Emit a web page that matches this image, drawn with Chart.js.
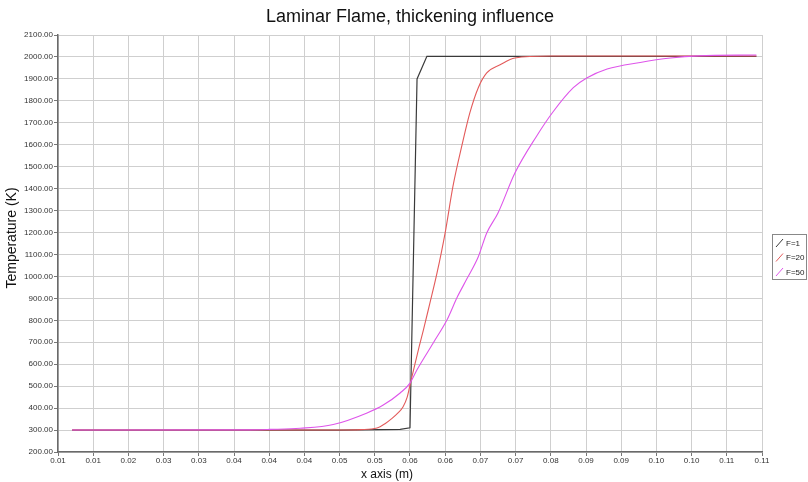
<!DOCTYPE html>
<html>
<head>
<meta charset="utf-8">
<script src="https://cdn.jsdelivr.net/npm/chart.js@4/dist/chart.umd.min.js"></script>
<style>
html,body{margin:0;padding:0;background:#fff;}
#wrap{width:808px;height:482px;}
</style>
</head>
<body>
<div id="wrap"><canvas id="c" width="808" height="482"></canvas></div>
<script>
// ---- data ----
const chartTitle = 'Laminar Flame, thickening influence';
const xAxisTitle = 'x axis (m)';
const yAxisTitle = 'Temperature (K)';
const seriesNames = ['F=1', 'F=20', 'F=50'];

const xTickLabels = ['0.01','0.01','0.02','0.03','0.03','0.04','0.04','0.04','0.05','0.05','0.06',
                     '0.06','0.07','0.07','0.08','0.09','0.09','0.10','0.10','0.11','0.11'];

const f1X = [0.0120, 0.0500, 0.0586, 0.0600, 0.0610, 0.0624, 0.0800, 0.1092];
const f1T = [300,    300,    303,    310,    1900,   2003,   2003,   2003];

const f20X = [0.0120, 0.0500, 0.0530, 0.0553, 0.0565, 0.0574, 0.0583, 0.0590, 0.0596, 0.0601, 0.0607,
              0.0613, 0.0619, 0.0628, 0.0638, 0.0650, 0.0661, 0.0674, 0.0685, 0.0697, 0.0709, 0.0728,
              0.0749, 0.0799, 0.1092];
const f20T = [300,    300,    302,    309,    330,    352,    378,    405,    450,    520,    600,
              680,    755,    875,    1010,   1200,   1410,   1600,   1745,   1860,   1927,   1964,
              1995,   2004,   2004];

const f50X = [0.0120, 0.0373, 0.0401, 0.0444, 0.0491, 0.0539, 0.0562, 0.0586, 0.0600, 0.0610, 0.0633,
              0.0653, 0.0667, 0.0681, 0.0697, 0.0709, 0.0725, 0.0749, 0.0780, 0.0803, 0.0832, 0.0851,
              0.0880, 0.0927, 0.0970, 0.1010, 0.1092];
const f50T = [300,    301,    303,    308,    325,    378,    414,    469,    514,    575,    697,
              805,    905,    990,    1090,   1198,   1289,   1471,   1640,   1749,   1860,   1904,
              1945,   1975,   1995,   2005,   2009];

const seriesColors = ['#3a3a3a', '#e35a5a', '#de55ea'];

function toPoints(xs, ys) { return xs.map((x, i) => ({x: x, y: ys[i]})); }

const fontFam = '"Liberation Sans", Arial, sans-serif';

// ---- plugins ----
const textPlugin = {
  id: 'titles',
  afterDraw(chart) {
    const ctx = chart.ctx, a = chart.chartArea;
    ctx.save();
    ctx.fillStyle = '#111';
    ctx.textAlign = 'center';
    ctx.textBaseline = 'middle';
    ctx.font = '18px ' + fontFam;
    ctx.fillText(chartTitle, (a.left + a.right) / 2, 17);
    ctx.font = '12px ' + fontFam;
    ctx.fillText(xAxisTitle, 387, 475);
    ctx.translate(12, 238);
    ctx.rotate(-Math.PI / 2);
    ctx.font = '14px ' + fontFam;
    ctx.fillText(yAxisTitle, 0, 0);
    ctx.restore();
  }
};

const legendPlugin = {
  id: 'boxLegend',
  afterDraw(chart) {
    const ctx = chart.ctx;
    const bx = 772.5, by = 234.5, bw = 34, bh = 45;
    ctx.save();
    ctx.strokeStyle = '#888';
    ctx.lineWidth = 1;
    ctx.strokeRect(bx, by, bw, bh);
    ctx.font = '8px ' + fontFam;
    ctx.textBaseline = 'middle';
    ctx.textAlign = 'left';
    chart.data.datasets.forEach((ds, i) => {
      const y = 243 + i * 14.5;
      ctx.strokeStyle = ds.borderColor;
      ctx.lineWidth = 1;
      ctx.beginPath();
      ctx.moveTo(776, y + 4);
      ctx.lineTo(783, y - 4);
      ctx.stroke();
      ctx.fillStyle = '#222';
      ctx.fillText(ds.label, 786, y + 0.5);
    });
    ctx.restore();
  }
};

new Chart(document.getElementById('c'), {
  type: 'line',
  data: {
    datasets: [
      {label: seriesNames[0], data: toPoints(f1X, f1T), borderColor: seriesColors[0], borderWidth: 1.2, order: 3},
      {label: seriesNames[1], data: toPoints(f20X, f20T), borderColor: seriesColors[1], borderWidth: 1.1, order: 2, cubicInterpolationMode: 'monotone'},
      {label: seriesNames[2], data: toPoints(f50X, f50T), borderColor: seriesColors[2], borderWidth: 1.1, order: 1, cubicInterpolationMode: 'monotone'}
    ]
  },
  options: {
    responsive: false,
    animation: false,
    devicePixelRatio: 1,
    elements: { point: { radius: 0 }, line: { tension: 0, fill: false } },
    layout: { padding: { top: 35, right: 46, left: 0, bottom: 0 } },
    plugins: {
      legend: { display: false },
      title: { display: false },
      tooltip: { enabled: false }
    },
    scales: {
      x: {
        type: 'linear',
        min: 0.01,
        max: 0.11,
        afterFit(s) { s.height = 30; },
        ticks: {
          stepSize: 0.005,
          autoSkip: false,
          maxRotation: 0,
          padding: 0,
          color: '#333',
          font: { size: 8, family: fontFam },
          callback: (v, i) => xTickLabels[i]
        },
        grid: { color: '#cfcfcf', lineWidth: 1, tickLength: 4, tickColor: '#777' },
        border: { color: '#6a6a6a', width: 1.5 }
      },
      y: {
        type: 'linear',
        min: 200,
        max: 2100,
        afterFit(s) { s.width = 58; },
        ticks: {
          stepSize: 100,
          padding: 1,
          color: '#333',
          font: { size: 8, family: fontFam },
          callback: (v) => Number(v).toFixed(2)
        },
        grid: { color: '#cfcfcf', lineWidth: 1, tickLength: 4, tickColor: '#777' },
        border: { color: '#6a6a6a', width: 1.5 }
      }
    }
  },
  plugins: [textPlugin, legendPlugin]
});
</script>
</body>
</html>
